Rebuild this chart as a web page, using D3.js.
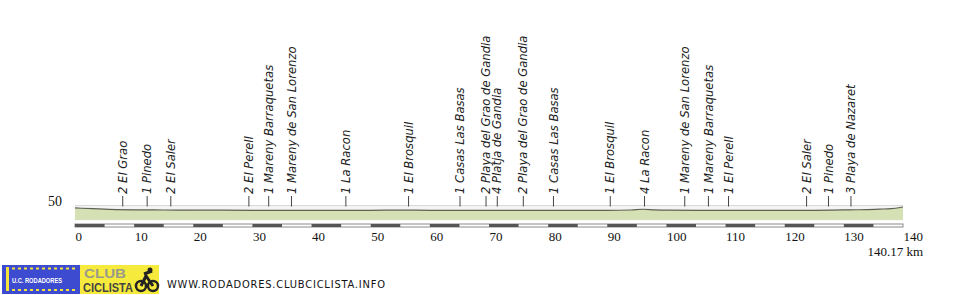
<!DOCTYPE html>
<html>
<head>
<meta charset="utf-8">
<script src="https://cdn.jsdelivr.net/npm/d3@7"></script>
<style>
  body { margin: 0; background: #fff; }
  svg { display: block; }
</style>
</head>
<body>
<div id="chart"></div>
<script>
// Profile data (km, altitude in m)
const profileKm = [0, 3, 7, 10, 15, 20, 25, 30, 35, 37, 40, 45, 50, 55, 60, 65, 70, 75, 80, 85, 90, 94, 96, 98, 100, 105, 110, 115, 120, 125, 128, 131, 134, 136, 138, 139.5, 140.17];
const profileAlt = [41.5, 39, 36, 35, 34.5, 34, 34, 33.5, 33.5, 33, 33.5, 33.5, 33.5, 34, 33.5, 33.5, 33.5, 33.5, 33.5, 33.5, 33.5, 34.5, 37, 35, 34, 33.5, 33.5, 33.5, 33.5, 33.5, 34, 35, 36, 37.5, 39, 43, 45];

// Waypoints along the route
const pointKm = [8.07, 12.2, 16.2, 29.4, 32.75, 36.6, 45.8, 56.4, 65.1, 69.5, 71.4, 75.8, 80.9, 90.5, 96.3, 103.1, 107.1, 110.5, 123.7, 127.4, 131.2];
const pointLabels = [
  "2 El Grao", "1 Pinedo", "2 El Saler", "2 El Perell", "1 Mareny Barraquetas",
  "1 Mareny de San Lorenzo", "1 La Racon", "1 El Brosquil", "1 Casas Las Basas",
  "2 Playa del Grao de Gandia", "4 Platja de Gandia", "2 Playa del Grao de Gandia",
  "1 Casas Las Basas", "1 El Brosquil", "4 La Racon", "1 Mareny de San Lorenzo",
  "1 Mareny Barraquetas", "1 El Perell", "2 El Saler", "1 Pinedo", "3 Playa de Nazaret"
];

const xTicks = [0, 10, 20, 30, 40, 50, 60, 70, 80, 90, 100, 110, 120, 130, 140];
const yTicks = [50];
const totalKm = 140.17;

const width = 978, height = 295;

const svg = d3.select('#chart')
  .append('svg')
  .attr('width', width)
  .attr('height', height);

const x = d3.scaleLinear().domain([0, 140]).range([75, 903]);
const y = d3.scaleLinear().domain([0, 50]).range([220, 205.5]);

// top reference line at 50 m
svg.append('rect')
  .attr('x', x(0)).attr('y', y(50) + 0.5)
  .attr('width', x(140) - x(0)).attr('height', y(0) - y(50))
  .style('fill', '#f4f4f4');

svg.append('line')
  .attr('x1', x(0)).attr('x2', x(140))
  .attr('y1', y(50)).attr('y2', y(50))
  .style('stroke', '#d9d9d9')
  .style('stroke-width', 1);

const pts = profileKm.map((k, i) => [Math.min(k, 140), profileAlt[i]]);

// filled profile
svg.append('path')
  .datum(pts)
  .attr('d', d3.area().x(d => x(d[0])).y0(y(0)).y1(d => y(d[1])).curve(d3.curveMonotoneX))
  .style('fill', '#d5e0b5');

svg.append('path')
  .datum(pts)
  .attr('d', d3.line().x(d => x(d[0])).y(d => y(d[1])).curve(d3.curveMonotoneX))
  .style('fill', 'none')
  .style('stroke', '#5f6152')
  .style('stroke-width', 1.2);

// y label
svg.selectAll('.ylab')
  .data(yTicks)
  .join('text')
  .attr('x', 62)
  .attr('y', d => y(d))
  .attr('text-anchor', 'end')
  .style('font-family', '"Liberation Serif", serif')
  .style('font-size', '14px')
  .style('fill', '#111')
  .text(d => d);

// waypoint ticks and labels
const wp = svg.append('g')
  .selectAll('g')
  .data(pointKm)
  .join('g')
  .attr('transform', d => `translate(${x(d)},0)`);

wp.append('line')
  .attr('y1', 196).attr('y2', y(50) + 1)
  .style('stroke', '#444')
  .style('stroke-width', 1);

wp.append('text')
  .attr('transform', 'translate(0,194) rotate(-90)')
  .attr('dy', '0.36em')
  .style('font-family', '"DejaVu Sans", sans-serif')
  .style('font-style', 'oblique')
  .style('font-size', '11.6px')
  .style('fill', '#222')
  .text((d, i) => pointLabels[i]);

// distance bar
const barY = 224;
svg.append('rect')
  .attr('x', x(0)).attr('y', barY)
  .attr('width', x(140) - x(0)).attr('height', 3)
  .style('fill', '#fff')
  .style('stroke', '#8a8a8a')
  .style('stroke-width', 1);

svg.append('g')
  .selectAll('rect')
  .data(xTicks.slice(0, -1))
  .join('rect')
  .attr('x', d => x(d))
  .attr('y', barY)
  .attr('width', x(5) - x(0))
  .attr('height', 3)
  .style('fill', '#555');

// x axis labels
const xAxis = d3.axisBottom(x)
  .tickValues(xTicks)
  .tickSize(0)
  .tickPadding(0)
  .tickFormat(d3.format('d'));

const ax = svg.append('g')
  .attr('transform', 'translate(0,232)')
  .call(xAxis);
ax.select('.domain').remove();
ax.selectAll('text')
  .attr('text-anchor', 'start')
  .attr('dy', '0.71em')
  .style('font-family', '"Liberation Serif", serif')
  .style('font-size', '13px')
  .style('fill', '#111');

svg.append('text')
  .attr('x', 923)
  .attr('y', 256)
  .attr('text-anchor', 'end')
  .style('font-family', '"Liberation Serif", serif')
  .style('font-size', '13px')
  .style('fill', '#111')
  .text(totalKm + ' km');

// club logo
const logo = svg.append('g');
logo.append('rect')
  .attr('x', 2).attr('y', 265).attr('width', 78).attr('height', 29)
  .style('fill', '#3c4bd0');
logo.append('rect')
  .attr('x', 6).attr('y', 267).attr('width', 3).attr('height', 24)
  .style('fill', '#f3e33a');
[268.5, 290].forEach(yy => {
  logo.append('line')
    .attr('x1', 12).attr('x2', 78).attr('y1', yy).attr('y2', yy)
    .style('stroke', '#f3e33a')
    .style('stroke-width', 2)
    .style('stroke-dasharray', '3,3');
});
logo.append('text')
  .attr('x', 12).attr('y', 283)
  .attr('textLength', 50)
  .attr('lengthAdjust', 'spacingAndGlyphs')
  .style('font-family', '"Liberation Sans", sans-serif')
  .style('font-weight', 'bold')
  .style('font-size', '8px')
  .style('fill', '#fff')
  .text('U.C. RODADORES');

logo.append('rect')
  .attr('x', 80).attr('y', 265).attr('width', 79).attr('height', 29)
  .style('fill', '#f6ea3c');
logo.append('text')
  .attr('x', 84).attr('y', 278)
  .attr('textLength', 42)
  .attr('lengthAdjust', 'spacingAndGlyphs')
  .style('font-family', '"Liberation Sans", sans-serif')
  .style('font-weight', 'bold')
  .style('font-size', '13px')
  .style('fill', '#9a9a8a')
  .text('CLUB');
logo.append('text')
  .attr('x', 83).attr('y', 292)
  .attr('textLength', 50)
  .attr('lengthAdjust', 'spacingAndGlyphs')
  .style('font-family', '"Liberation Sans", sans-serif')
  .style('font-weight', 'bold')
  .style('font-size', '13px')
  .style('fill', '#444')
  .text('CICLISTA');
[[141, 286], [153, 286]].forEach(c => {
  logo.append('circle')
    .attr('cx', c[0]).attr('cy', c[1]).attr('r', 5)
    .style('fill', 'none')
    .style('stroke', '#222')
    .style('stroke-width', 2.5);
});
logo.append('path')
  .attr('d', 'M141,286 L146,276 L153,286 M144,274 L152,271')
  .style('fill', 'none')
  .style('stroke', '#222')
  .style('stroke-width', 3);
logo.append('circle')
  .attr('cx', 150).attr('cy', 270).attr('r', 2.5)
  .style('fill', '#222');

svg.append('text')
  .attr('x', 167).attr('y', 288)
  .attr('textLength', 218)
  .attr('lengthAdjust', 'spacing')
  .style('font-family', '"DejaVu Sans Condensed", "DejaVu Sans", sans-serif')
  .style('font-size', '11px')
  .style('fill', '#111')
  .text('WWW.RODADORES.CLUBCICLISTA.INFO');
</script>
</body>
</html>
